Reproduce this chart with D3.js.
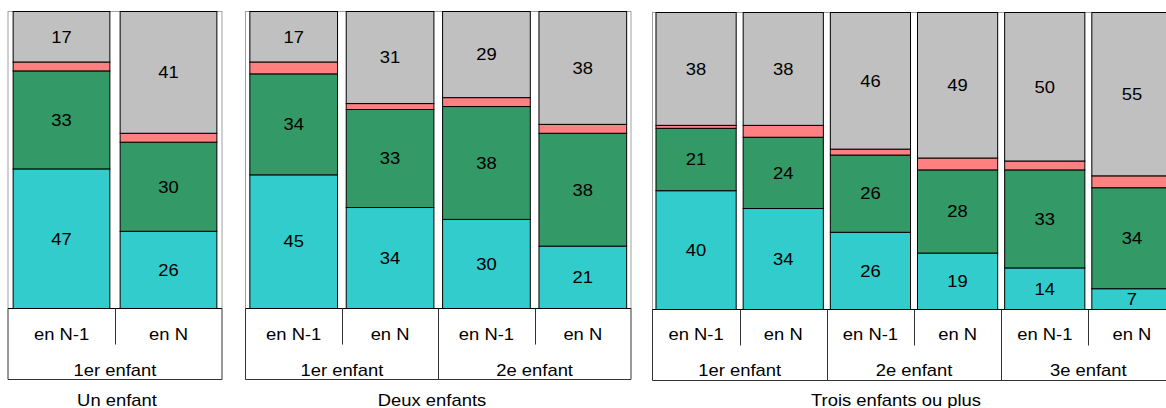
<!DOCTYPE html>
<html>
<head>
<meta charset="utf-8">
<script src="https://cdn.jsdelivr.net/npm/d3@7"></script>
<style>
  html, body { margin: 0; padding: 0; background: #fff; }
  svg { display: block; font-family: "Liberation Sans", Arial, sans-serif; }
  text { fill: #000; }
</style>
</head>
<body>
<script>
// ---- Data ----
const panelTitles = ["Un enfant", "Deux enfants", "Trois enfants ou plus"];
const panelGroups = [["1er enfant"], ["1er enfant", "2e enfant"], ["1er enfant", "2e enfant", "3e enfant"]];
const periods = ["en N-1", "en N"];
// bars in order: panel 1 (2 bars), panel 2 (4 bars), panel 3 (6 bars)
const cyanValues  = [47, 26, 45, 34, 30, 21, 40, 34, 26, 19, 14, 7];
const greenValues = [33, 30, 34, 33, 38, 38, 21, 24, 26, 28, 33, 34];
const redValues   = [3, 3, 4, 2, 3, 3, 1, 4, 2, 4, 3, 4];
const grayValues  = [17, 41, 17, 31, 29, 38, 38, 38, 46, 49, 50, 55];

// ---- Layout / style ----
const seriesKeys = ["cyan", "green", "red", "gray"];
const colors = { cyan: "#33CCCC", green: "#339966", red: "#FF8080", gray: "#C0C0C0" };
const labelled = { cyan: true, green: true, red: false, gray: true };
const layout = [
  { x0: 8,     x1: 222,    top: 11.5, bottom: 308.5, tableBottom: 379.5, pad: 0.096, titleX: 117 },
  { x0: 245.5, x1: 631,    top: 11.5, bottom: 308.5, tableBottom: 379.5, pad: 0.09,  titleX: 432 },
  { x0: 652.5, x1: 1175.5, top: 12.5, bottom: 309.5, tableBottom: 380.5, pad: 0.08,  titleX: 896 }
];
const FS = 16, SX = 1.15;

const svg = d3.select("body").append("svg").attr("width", 1166).attr("height", 408);

function txt(g, x, y, s) {
  g.append("text")
    .attr("transform", `translate(${x},${y}) scale(${SX},1)`)
    .attr("text-anchor", "middle")
    .style("font-size", FS + "px")
    .text(s);
}

let offset = 0;
panelTitles.forEach((title, pi) => {
  const L = layout[pi];
  const groups = panelGroups[pi];
  const n = groups.length * periods.length;
  const idx = d3.range(offset, offset + n);
  offset += n;

  const x = d3.scaleBand().domain(idx).range([L.x0, L.x1])
    .paddingInner(L.pad).paddingOuter(L.pad / 2);
  const y = d3.scaleLinear().domain([0, 100]).range([L.bottom, L.top]);

  const rows = idx.map(i => ({ i, cyan: cyanValues[i], green: greenValues[i], red: redValues[i], gray: grayValues[i] }));
  const stacked = d3.stack().keys(seriesKeys)(rows);

  const g = svg.append("g");

  // plot frame
  g.append("rect")
    .attr("x", L.x0).attr("y", L.top)
    .attr("width", L.x1 - L.x0).attr("height", L.bottom - L.top)
    .attr("fill", "none").attr("stroke", "#A0A0A0").attr("stroke-width", 1);

  // bars
  stacked.forEach(layer => {
    const key = layer.key;
    g.append("g").selectAll("rect").data(layer).join("rect")
      .attr("x", d => x(d.data.i))
      .attr("width", x.bandwidth())
      .attr("y", d => y(d[1]))
      .attr("height", d => y(d[0]) - y(d[1]))
      .attr("fill", colors[key])
      .attr("stroke", "#000").attr("stroke-width", 1);
  });
  // value labels
  stacked.forEach(layer => {
    if (!labelled[layer.key]) return;
    layer.forEach(d => {
      const cy = (y(d[0]) + y(d[1])) / 2;
      txt(g, x(d.data.i) + x.bandwidth() / 2, cy + 5.8, String(d.data[layer.key]));
    });
  });

  // category table
  const line = (x1, y1, x2, y2, c) => g.append("line")
    .attr("x1", x1).attr("y1", y1).attr("x2", x2).attr("y2", y2)
    .attr("stroke", c || "#333").attr("stroke-width", 1);
  line(L.x0, L.bottom, L.x1, L.bottom, "#000");
  line(L.x0, L.bottom, L.x0, L.tableBottom);
  line(L.x1, L.bottom, L.x1, L.tableBottom);
  line(L.x0, L.tableBottom, L.x1, L.tableBottom);

  const boundary = (a, b) => Math.round((x(a) + x.bandwidth() + x(b)) / 2) + 0.5;
  groups.forEach((gl, gi) => {
    const a = idx[gi * 2], b = idx[gi * 2 + 1];
    // short divider between periods
    line(boundary(a, b), L.bottom, boundary(a, b), L.bottom + 36);
    // period labels
    periods.forEach((p, k) => {
      const i = idx[gi * 2 + k];
      txt(g, x(i) + x.bandwidth() / 2, 339.5, p);
    });
    // group divider
    if (gi < groups.length - 1) {
      const c = idx[gi * 2 + 2];
      line(boundary(b, c), L.bottom, boundary(b, c), L.tableBottom);
    }
    // group label
    const left = gi === 0 ? L.x0 : (x(a) + x(a) - x.step() + x.bandwidth()) / 2;
    const gc = (x(a) + x(b) + x.bandwidth()) / 2;
    txt(g, gc, 375.5, gl);
  });

  // panel title
  txt(g, L.titleX, 405.5, title);
});
</script>
</body>
</html>
